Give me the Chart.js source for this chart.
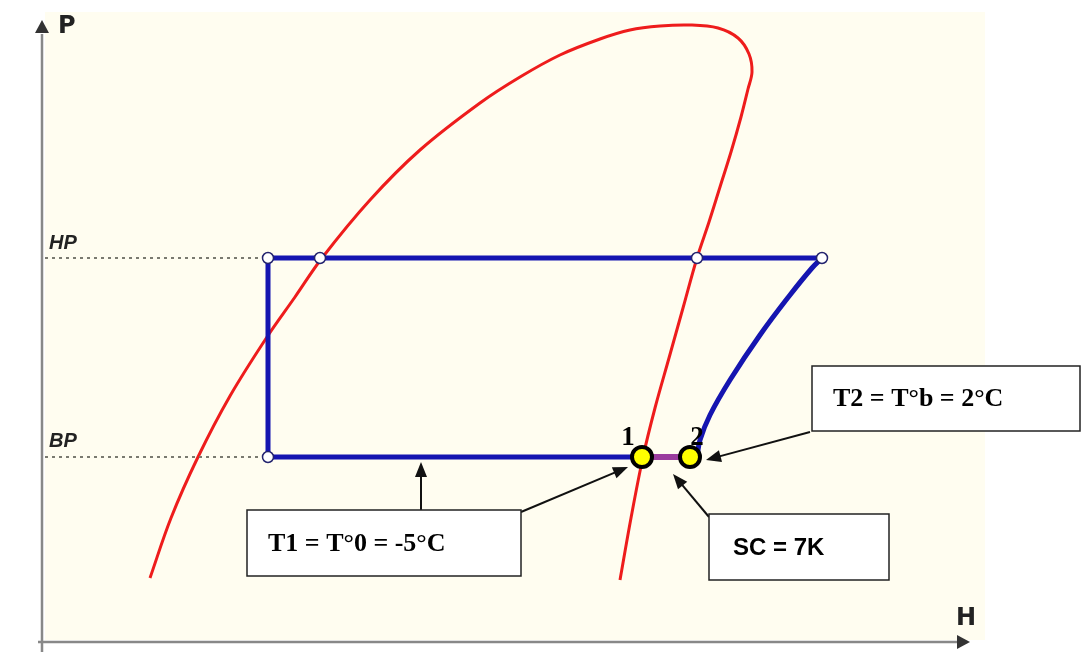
<!DOCTYPE html>
<html>
<head>
<meta charset="utf-8">
<script src="https://cdn.jsdelivr.net/npm/chart.js@4/dist/chart.umd.min.js"></script>
<style>
  html, body { margin: 0; padding: 0; background: #ffffff; }
  #wrap { width: 1081px; height: 652px; }
</style>
</head>
<body>
<div id="wrap"><canvas id="phChart" width="1081" height="652"></canvas></div>
<script>
// diagram units: H to the right, P upward
const satH = [150, 171, 198, 230, 267, 295, 322, 370, 420, 480, 520, 560, 600, 630, 660, 690, 718, 738, 749, 752, 748, 741, 731, 720, 709, 697, 683, 669, 655, 643, 631, 620];
const satP = [74, 134, 195, 256, 315, 355, 394, 452, 502, 549, 575, 597, 613, 622, 626, 627, 624, 614, 598, 580, 563, 535, 500, 465, 430, 394, 344, 294, 244, 195, 134, 72];

const HP = 394;
const BP = 195;
const cycleH = [642, 268, 268, 822];
const cycleP = [BP, BP, HP, HP];

const compH = [697, 700, 710, 730, 760, 790, 812, 822];
const compP = [BP, 212, 237, 272, 317, 357, 384, HP];

const superH = [642, 690];
const nodeH = [268, 320, 697, 822, 268];
const nodeP = [HP, HP, HP, HP, BP];
const pointH = [642, 690];
const pointLabels = ["1", "2"];

const toPts = (xs, ys) => xs.map((x, i) => ({ x: x, y: ys[i] }));

const bgPlugin = {
  id: "paperBg",
  beforeDraw: (chart) => {
    const { ctx } = chart;
    const x = chart.scales.x, y = chart.scales.y;
    ctx.save();
    ctx.fillStyle = "#fffdf0";
    ctx.fillRect(x.getPixelForValue(45), y.getPixelForValue(640), x.getPixelForValue(985) - x.getPixelForValue(45), y.getPixelForValue(12) - y.getPixelForValue(640));
    ctx.restore();
  },
  beforeDatasetsDraw: (chart) => {
    const { ctx } = chart;
    const sx = chart.scales.x, sy = chart.scales.y;
    ctx.save();
    // axes
    ctx.strokeStyle = "#888888";
    ctx.lineWidth = 2.5;
    ctx.beginPath();
    ctx.moveTo(sx.getPixelForValue(42), sy.getPixelForValue(0));
    ctx.lineTo(sx.getPixelForValue(42), sy.getPixelForValue(618));
    ctx.moveTo(sx.getPixelForValue(38), sy.getPixelForValue(10));
    ctx.lineTo(sx.getPixelForValue(958), sy.getPixelForValue(10));
    ctx.stroke();
    ctx.fillStyle = "#333333";
    ctx.beginPath();
    const ax = sx.getPixelForValue(42), ay = sy.getPixelForValue(632);
    ctx.moveTo(ax, ay);
    ctx.lineTo(ax - 7, ay + 13);
    ctx.lineTo(ax + 7, ay + 13);
    ctx.fill();
    const bx = sx.getPixelForValue(970), by = sy.getPixelForValue(10);
    ctx.beginPath();
    ctx.moveTo(bx, by);
    ctx.lineTo(bx - 13, by - 7);
    ctx.lineTo(bx - 13, by + 7);
    ctx.fill();

    ctx.fillStyle = "#222222";
    ctx.font = "bold 24px 'DejaVu Sans'";
    ctx.textBaseline = "middle";
    ctx.fillText("P", sx.getPixelForValue(58), sy.getPixelForValue(625));
    ctx.fillText("H", sx.getPixelForValue(956), sy.getPixelForValue(33));
    ctx.font = "italic bold 20px 'Liberation Sans'";
    ctx.fillText("HP", sx.getPixelForValue(49), sy.getPixelForValue(HP + 15));
    ctx.fillText("BP", sx.getPixelForValue(49), sy.getPixelForValue(BP + 16));
    ctx.restore();
  },
  afterDraw: (chart) => {
    const { ctx } = chart;
    const sx = chart.scales.x, sy = chart.scales.y;
    const X = (v) => sx.getPixelForValue(v);
    const Y = (v) => sy.getPixelForValue(v);

    ctx.save();
    // point numbers
    ctx.fillStyle = "#000000";
    ctx.font = "bold 27px 'Liberation Serif'";
    ctx.textAlign = "center";
    ctx.textBaseline = "alphabetic";
    pointLabels.forEach((t, i) => {
      ctx.fillText(t, X(pointH[i]) - (i === 0 ? 14 : -7), Y(BP + 12));
    });

    // arrows
    const arrow = (x1, y1, x2, y2) => {
      const px1 = X(x1), py1 = Y(y1), px2 = X(x2), py2 = Y(y2);
      const a = Math.atan2(py2 - py1, px2 - px1);
      ctx.strokeStyle = "#111111";
      ctx.fillStyle = "#111111";
      ctx.lineWidth = 2;
      ctx.beginPath();
      ctx.moveTo(px1, py1);
      ctx.lineTo(px2 - 10 * Math.cos(a), py2 - 10 * Math.sin(a));
      ctx.stroke();
      ctx.beginPath();
      ctx.moveTo(px2, py2);
      ctx.lineTo(px2 - 15 * Math.cos(a) + 6 * Math.sin(a), py2 - 15 * Math.sin(a) - 6 * Math.cos(a));
      ctx.lineTo(px2 - 15 * Math.cos(a) - 6 * Math.sin(a), py2 - 15 * Math.sin(a) + 6 * Math.cos(a));
      ctx.closePath();
      ctx.fill();
    };
    arrow(421, 142, 421, 190);
    arrow(521, 140, 628, 185);
    arrow(709, 135, 673, 178);
    arrow(810, 220, 706, 192);

    // text boxes
    const box = (x1, y1, x2, y2, text, font, tx) => {
      ctx.fillStyle = "#ffffff";
      ctx.fillRect(X(x1), Y(y1), X(x2) - X(x1), Y(y2) - Y(y1));
      ctx.strokeStyle = "#222222";
      ctx.lineWidth = 1.5;
      ctx.strokeRect(X(x1), Y(y1), X(x2) - X(x1), Y(y2) - Y(y1));
      ctx.fillStyle = "#000000";
      ctx.font = font;
      ctx.textAlign = "left";
      ctx.textBaseline = "middle";
      ctx.fillText(text, X(tx), (Y(y1) + Y(y2)) / 2 + 1);
    };
    box(247, 142, 521, 76, "T1 = T°0 = -5°C", "bold 26px 'Liberation Serif'", 268);
    box(709, 138, 889, 72, "SC = 7K", "bold 24px 'Liberation Sans'", 733);
    box(812, 286, 1080, 221, "T2 = T°b = 2°C", "bold 26px 'Liberation Serif'", 833);
    ctx.restore();
  },
};

function createDiagram() {
  const ctx = document.getElementById("phChart").getContext("2d");
  const blue = "#1515b0";

  return new Chart(ctx, {
    type: "scatter",
    data: {
      datasets: [
        {
          label: "saturation",
          data: toPts(satH, satP),
          showLine: true,
          borderColor: "#ee1c1c",
          borderWidth: 3,
          tension: 0.35,
          pointRadius: 0,
          order: 7,
        },
        {
          label: "HP level",
          data: [{ x: 45, y: HP }, { x: 268, y: HP }],
          showLine: true,
          borderColor: "#7a7a70",
          borderWidth: 2,
          borderDash: [3, 4],
          pointRadius: 0,
          order: 6,
        },
        {
          label: "BP level",
          data: [{ x: 45, y: BP }, { x: 268, y: BP }],
          showLine: true,
          borderColor: "#7a7a70",
          borderWidth: 2,
          borderDash: [3, 4],
          pointRadius: 0,
          order: 5,
        },
        {
          label: "cycle",
          data: toPts(cycleH, cycleP),
          showLine: true,
          borderColor: blue,
          borderWidth: 5,
          pointRadius: 0,
          order: 4,
        },
        {
          label: "compression",
          data: toPts(compH, compP),
          showLine: true,
          borderColor: blue,
          borderWidth: 5,
          tension: 0.4,
          pointRadius: 0,
          order: 3,
        },
        {
          label: "superheat",
          data: toPts(superH, [BP, BP]),
          showLine: true,
          borderColor: "#9a3c9e",
          borderWidth: 6,
          pointRadius: 0,
          order: 2,
        },
        {
          label: "nodes",
          data: toPts(nodeH, nodeP),
          pointRadius: 5.5,
          pointBackgroundColor: "#ffffff",
          pointBorderColor: "#23236e",
          pointBorderWidth: 1.5,
          order: 1,
        },
        {
          label: "points",
          data: toPts(pointH, [BP, BP]),
          pointRadius: 10,
          pointBackgroundColor: "#ffff00",
          pointBorderColor: "#000000",
          pointBorderWidth: 4,
          order: 0,
        },
      ],
    },
    options: {
      responsive: false,
      animation: false,
      layout: { padding: 0, autoPadding: false },
      scales: {
        x: { type: "linear", min: 0, max: 1081, display: false },
        y: { type: "linear", min: 0, max: 652, display: false },
      },
      plugins: {
        legend: { display: false },
        tooltip: { enabled: false },
      },
    },
    plugins: [bgPlugin],
  });
}

document.addEventListener("DOMContentLoaded", () => {
  createDiagram();
});
</script>
</body>
</html>
